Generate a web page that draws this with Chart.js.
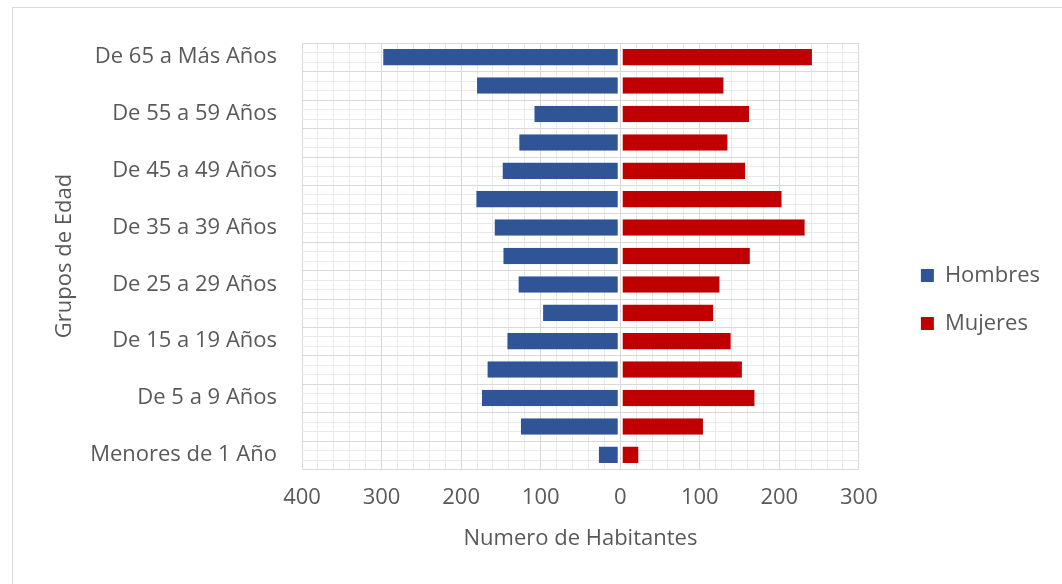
<!DOCTYPE html>
<html>
<head>
<meta charset="utf-8">
<script src="https://cdn.jsdelivr.net/npm/chart.js@4/dist/chart.umd.min.js"></script>
<style>
  html, body { margin: 0; padding: 0; background: #ffffff; }
  #wrap { width: 1062px; height: 584px; }
</style>
</head>
<body>
<div id="wrap"><canvas id="c" width="1062" height="584"></canvas></div>
<script>
// Age groups, oldest first (top of the pyramid)
const categories = [
  'De 65 a Más Años', 'De 60 a 64 Años', 'De 55 a 59 Años', 'De 50 a 54 Años',
  'De 45 a 49 Años', 'De 40 a 44 Años', 'De 35 a 39 Años', 'De 30 a 34 Años',
  'De 25 a 29 Años', 'De 20 a 24 Años', 'De 15 a 19 Años', 'De 10 a 14 Años',
  'De 5 a 9 Años', 'De 1 a 4 Años', 'Menores de 1 Año'
];
// Inhabitants per age group
const hombres = [298, 180, 108, 127, 148, 181, 158, 147, 128, 97, 142, 167, 174, 125, 27];
const mujeres = [241, 130, 162, 135, 157, 203, 232, 163, 125, 117, 139, 153, 169, 104, 23];
const seriesNames = ['Hombres', 'Mujeres'];
// Axis range and tick labels
const xMin = -400, xMax = 300, xMinorStep = 20, xMajorStep = 100;
const yTitle = 'Grupos de Edad';
const xTitle = 'Numero de Habitantes';

const textColor = '#595959';
const gridMajor = '#d9d9d9';
const gridMinor = '#e9e9e9';
const fontFamily = '"Open Sans", "Noto Sans", sans-serif';
const fontSize = 22;

// Outer frame of the chart object
const framePlugin = {
  id: 'frame',
  beforeDraw(chart) {
    const ctx = chart.ctx;
    ctx.save();
    ctx.strokeStyle = gridMajor;
    ctx.lineWidth = 1;
    ctx.strokeRect(12.5, 7.5, chart.width + 20, chart.height + 20);
    ctx.restore();
  }
};

// Horizontal grid: a line between age groups plus two faint minor lines inside each row
const rowGridPlugin = {
  id: 'rowGrid',
  beforeDatasetsDraw(chart) {
    const y = chart.scales.y;
    const area = chart.chartArea;
    const ctx = chart.ctx;
    ctx.save();
    ctx.lineWidth = 1;
    const n = categories.length;
    for (let i = 0; i < n; i++) {
      for (let k = 1; k < 3; k++) {
        const py = Math.round(y.getPixelForValue(i - 0.5 + k / 3)) + 0.5;
        ctx.strokeStyle = gridMinor;
        ctx.beginPath(); ctx.moveTo(area.left, py); ctx.lineTo(area.right, py); ctx.stroke();
      }
    }
    for (let i = 0; i <= n; i++) {
      const py = Math.round(y.getPixelForValue(i - 0.5)) + 0.5;
      ctx.strokeStyle = gridMajor;
      ctx.beginPath(); ctx.moveTo(area.left, py); ctx.lineTo(area.right, py); ctx.stroke();
    }
    ctx.restore();
  }
};

new Chart(document.getElementById('c'), {
  type: 'bar',
  data: {
    labels: categories,
    datasets: [
      {
        label: seriesNames[0],
        data: hombres.map(v => -v),
        backgroundColor: '#2f5597',
        borderColor: '#ffffff',
        borderWidth: { top: 0, bottom: 0, left: 0, right: 2 },
        borderSkipped: false
      },
      {
        label: seriesNames[1],
        data: mujeres,
        backgroundColor: '#c00000',
        borderColor: '#ffffff',
        borderWidth: { top: 0, bottom: 0, left: 2, right: 0 },
        borderSkipped: false
      }
    ]
  },
  options: {
    indexAxis: 'y',
    responsive: false,
    animation: false,
    layout: { padding: { top: 43, bottom: 28, left: 48, right: 12 } },
    datasets: { bar: { barPercentage: 0.58, categoryPercentage: 1 } },
    plugins: {
      legend: {
        position: 'right',
        labels: {
          boxWidth: 13,
          boxHeight: 13,
          padding: 26,
          color: textColor,
          font: { family: fontFamily, size: fontSize },
          generateLabels(chart) {
            return chart.data.datasets.map((ds, i) => ({
              text: ds.label,
              fillStyle: ds.backgroundColor,
              strokeStyle: ds.backgroundColor,
              lineWidth: 0,
              fontColor: textColor,
              datasetIndex: i,
              hidden: false
            }));
          }
        }
      },
      tooltip: { enabled: false }
    },
    scales: {
      x: {
        type: 'linear',
        stacked: true,
        min: xMin,
        max: xMax,
        afterFit(scale) { scale.height = 87; },
        ticks: {
          stepSize: xMinorStep,
          autoSkip: false,
          maxRotation: 0,
          padding: 16,
          color: textColor,
          font: { family: fontFamily, size: fontSize },
          callback(v) { return v % xMajorStep === 0 ? String(Math.abs(v)) : ''; }
        },
        grid: {
          drawTicks: false,
          color: (c) => (c.tick && c.tick.value % xMajorStep === 0) ? gridMajor : gridMinor,
          lineWidth: 1
        },
        border: { display: true, color: gridMajor },
        title: {
          display: true,
          text: xTitle,
          color: textColor,
          font: { family: fontFamily, size: fontSize },
          padding: { top: 4, bottom: 4 }
        }
      },
      y: {
        type: 'category',
        stacked: true,
        afterFit(scale) { scale.width = 254; },
        ticks: {
          autoSkip: false,
          padding: 25,
          color: textColor,
          font: { family: fontFamily, size: fontSize },
          callback(value, index) { return index % 2 === 0 ? this.getLabelForValue(value) : ''; }
        },
        grid: { display: false, drawTicks: false },
        border: { display: false },
        title: {
          display: true,
          text: yTitle,
          color: textColor,
          font: { family: fontFamily, size: fontSize },
          padding: { top: 4, bottom: 4 }
        }
      },
      gap: {
        type: 'linear',
        position: 'right',
        display: true,
        afterFit(scale) { scale.width = 36; },
        ticks: { display: false },
        grid: { display: false, drawTicks: false },
        border: { display: false }
      }
    }
  },
  plugins: [framePlugin, rowGridPlugin]
});
</script>
</body>
</html>
